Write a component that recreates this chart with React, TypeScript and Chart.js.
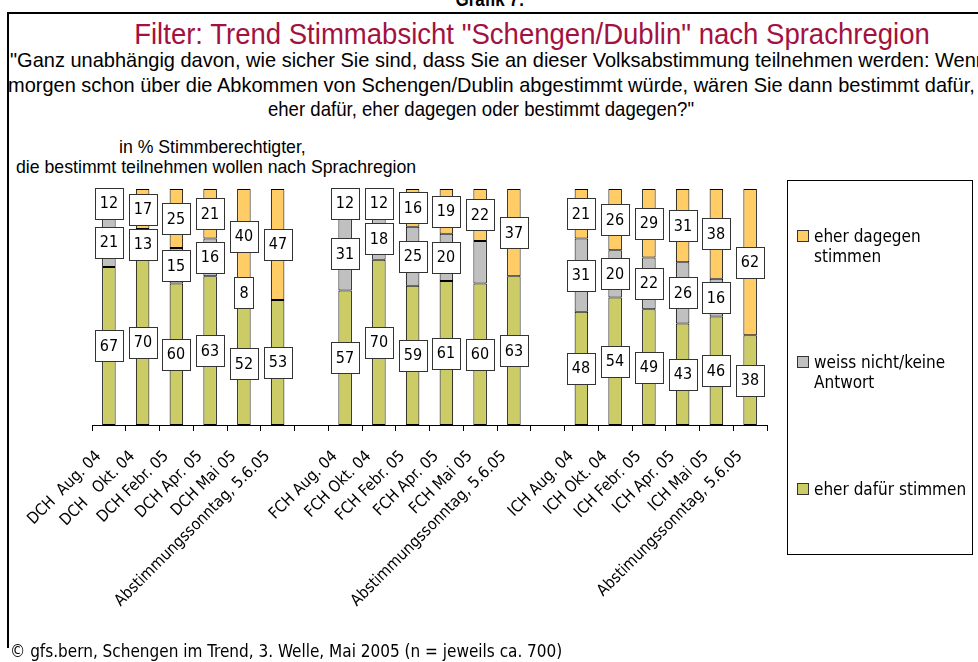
import React, { useEffect, useRef } from "react";
import { Chart, registerables } from "chart.js";

Chart.register(...registerables);

// ---------- data ----------
const categories: string[] = [
  "DCH  Aug. 04",
  "DCH   Okt. 04",
  "DCH Febr. 05",
  "DCH Apr. 05",
  "DCH Mai 05",
  "Abstimmungssonntag, 5.6.05",
  "",
  "FCH Aug. 04",
  "FCH Okt. 04",
  "FCH Febr. 05",
  "FCH Apr. 05",
  "FCH Mai 05",
  "Abstimmungssonntag, 5.6.05",
  "",
  "ICH Aug. 04",
  "ICH Okt. 04",
  "ICH Febr. 05",
  "ICH Apr. 05",
  "ICH Mai 05",
  "Abstimungssonntag, 5.6.05",
];

const eherDafuer: (number | null)[] = [67, 70, 60, 63, 52, 53, null, 57, 70, 59, 61, 60, 63, null, 48, 54, 49, 43, 46, 38];
const weissNicht: (number | null)[] = [21, 13, 15, 16, 8, null, null, 31, 18, 25, 20, 18, null, null, 31, 20, 22, 26, 16, null];
const eherDagegen: (number | null)[] = [12, 17, 25, 21, 40, 47, null, 12, 12, 16, 19, 22, 37, null, 21, 26, 29, 31, 38, 62];
// segments that carry no value box in the original (FCH Mai 05, "weiss nicht")
const weissUnlabeled: number[] = [11];

const seriesNames = ["eher dafür stimmen", "weiss nicht/keine Antwort", "eher dagegen stimmen"];
const COLORS = { dafuer: "#CCCC66", weiss: "#C0C0C0", dagegen: "#FFCC66" };

const TAHOMA = "'DejaVu Sans Condensed', 'DejaVu Sans', sans-serif";
const NARROW = "'Liberation Sans Narrow', 'Liberation Sans', Arial, sans-serif";

const boxLabels = {
  id: "boxLabels",
  afterDatasetsDraw(chart: any) {
    const ctx = chart.ctx as CanvasRenderingContext2D;
    ctx.save();
    ctx.font = `16px ${TAHOMA}`;
    ctx.textAlign = "center";
    ctx.textBaseline = "middle";
    chart.data.datasets.forEach((ds: any, di: number) => {
      const meta = chart.getDatasetMeta(di);
      meta.data.forEach((el: any, i: number) => {
        const v = ds.data[i];
        if (v == null) return;
        if (ds.unlabeled && ds.unlabeled.includes(i)) return;
        const { x, y, base } = el.getProps(["x", "y", "base"], true);
        const cy = (y + base) / 2;
        const text = String(v);
        const w = Math.round(ctx.measureText(text).width + 10);
        const h = 31;
        const left = Math.round(x - w / 2) + 0.5;
        const top = Math.round(cy - h / 2) + 0.5;
        ctx.fillStyle = "#ffffff";
        ctx.fillRect(left, top, w, h);
        ctx.strokeStyle = "#333333";
        ctx.lineWidth = 1;
        ctx.strokeRect(left, top, w, h);
        ctx.fillStyle = "#000000";
        ctx.fillText(text, Math.round(x), Math.round(cy) + 1);
      });
    });
    ctx.restore();
  },
};

function ChartCanvas() {
  const ref = useRef<HTMLCanvasElement | null>(null);
  useEffect(() => {
    if (!ref.current) return;
    const chart = new Chart(ref.current, {
      type: "bar",
      data: {
        labels: categories,
        datasets: [
          {
            label: seriesNames[0],
            data: eherDafuer,
            backgroundColor: COLORS.dafuer,
            borderColor: "#000000",
            borderWidth: 1,
            borderSkipped: false,
          } as any,
          {
            label: seriesNames[1],
            data: weissNicht,
            backgroundColor: COLORS.weiss,
            borderColor: "#000000",
            borderWidth: 1,
            borderSkipped: false,
            unlabeled: weissUnlabeled,
          } as any,
          {
            label: seriesNames[2],
            data: eherDagegen,
            backgroundColor: COLORS.dagegen,
            borderColor: "#000000",
            borderWidth: 1,
            borderSkipped: false,
          } as any,
        ],
      },
      options: {
        responsive: false,
        animation: false,
        devicePixelRatio: 1,
        layout: { padding: { left: 92, right: 211, top: 189, bottom: 0 } },
        datasets: { bar: { categoryPercentage: 1, barPercentage: 0.4 } },
        plugins: { legend: { display: false }, tooltip: { enabled: false } },
        scales: {
          x: {
            stacked: true,
            afterFit: (scale: any) => {
              scale.height = 237;
            },
            grid: {
              display: true,
              offset: true,
              drawOnChartArea: false,
              drawTicks: true,
              tickLength: 6,
              color: "#000000",
            },
            border: { display: true, color: "#000000", width: 1 },
            ticks: {
              autoSkip: false,
              minRotation: 45,
              maxRotation: 45,
              padding: 16,
              labelOffset: -10,
              color: "#000000",
              font: { family: TAHOMA, size: 16 },
            },
          },
          y: {
            stacked: true,
            display: false,
            min: 0,
            max: 100,
          },
        },
      } as any,
      plugins: [boxLabels as any],
    });
    return () => chart.destroy();
  }, []);
  return (
    <canvas
      ref={ref}
      width={978}
      height={662}
      style={{ position: "absolute", left: 0, top: 0, width: 978, height: 662 }}
    />
  );
}

const abs = (s: React.CSSProperties): React.CSSProperties => ({
  position: "absolute",
  whiteSpace: "nowrap",
  margin: 0,
  ...s,
});

export default function App() {
  const legendItems = [
    { color: COLORS.dagegen, lines: ["eher dagegen", "stimmen"], top: 226 },
    { color: COLORS.weiss, lines: ["weiss nicht/keine", "Antwort"], top: 352 },
    { color: COLORS.dafuer, lines: ["eher dafür stimmen"], top: 479 },
  ];
  return (
    <div
      style={{
        position: "fixed",
        left: 0,
        top: 0,
        width: 978,
        height: 662,
        overflow: "hidden",
        background: "#ffffff",
      }}
    >
      {/* frame */}
      <div
        style={abs({
          left: 7,
          top: 12,
          width: 1000,
          height: 636,
          borderTop: "2px solid #000",
          borderLeft: "2px solid #000",
          boxSizing: "border-box",
        })}
      />
      <div
        style={abs({
          left: 490,
          top: -11,
          transform: "translateX(-50%) scaleX(0.85)",
          font: `bold 20px/20px ${NARROW}`,
          color: "#000",
        })}
      >
        Grafik 7:
      </div>
      <div
        style={abs({
          left: 532,
          top: 19,
          transform: "translateX(-50%) scaleX(0.918)",
          font: `30px/30px ${NARROW}`,
          color: "#A3123F",
        })}
      >
        Filter: Trend Stimmabsicht "Schengen/Dublin" nach Sprachregion
      </div>
      <div
        style={abs({
          left: 10,
          top: 49,
          transformOrigin: "0 0",
          transform: "scaleX(0.952)",
          font: `21px/21px ${NARROW}`,
          color: "#000",
        })}
      >
        "Ganz unabhängig davon, wie sicher Sie sind, dass Sie an dieser Volksabstimmung teilnehmen werden: Wenn
      </div>
      <div
        style={abs({
          left: 8,
          top: 73.5,
          transformOrigin: "0 0",
          transform: "scaleX(0.952)",
          font: `21px/21px ${NARROW}`,
          color: "#000",
        })}
      >
        morgen schon über die Abkommen von Schengen/Dublin abgestimmt würde, wären Sie dann bestimmt dafür,
      </div>
      <div
        style={abs({
          left: 481,
          top: 98,
          transform: "translateX(-50%) scaleX(0.885)",
          font: `21px/21px ${NARROW}`,
          color: "#000",
        })}
      >
        eher dafür, eher dagegen oder bestimmt dagegen?"
      </div>
      <div style={abs({ left: 119, top: 139, font: `17.7px/17px ${NARROW}`, color: "#000" })}>
        in % Stimmberechtigter,
      </div>
      <div style={abs({ left: 16, top: 159, font: `17.7px/17px ${NARROW}`, color: "#000" })}>
        die bestimmt teilnehmen wollen nach Sprachregion
      </div>

      <ChartCanvas />

      {/* legend */}
      <div
        style={abs({
          left: 787,
          top: 180,
          width: 186,
          height: 375,
          border: "1px solid #000",
          boxSizing: "border-box",
          background: "transparent",
        })}
      />
      {legendItems.map((it, k) => (
        <div key={k} style={abs({ left: 797, top: it.top, font: `17px/20px ${TAHOMA}`, color: "#000" })}>
          <div
            style={abs({
              left: 0,
              top: 4,
              width: 12,
              height: 12,
              background: it.color,
              border: "1px solid #333",
              boxSizing: "border-box",
            })}
          />
          <div style={{ marginLeft: 17 }}>
            {it.lines.map((l, j) => (
              <div key={j}>{l}</div>
            ))}
          </div>
        </div>
      ))}

      <div
        style={abs({
          left: 10,
          top: 643,
          font: `17px/17px ${TAHOMA}`,
          color: "#000",
          background: "#fff",
          paddingRight: 4,
        })}
      >
        © gfs.bern, Schengen im Trend, 3. Welle, Mai 2005 (n = jeweils ca. 700)
      </div>
    </div>
  );
}
